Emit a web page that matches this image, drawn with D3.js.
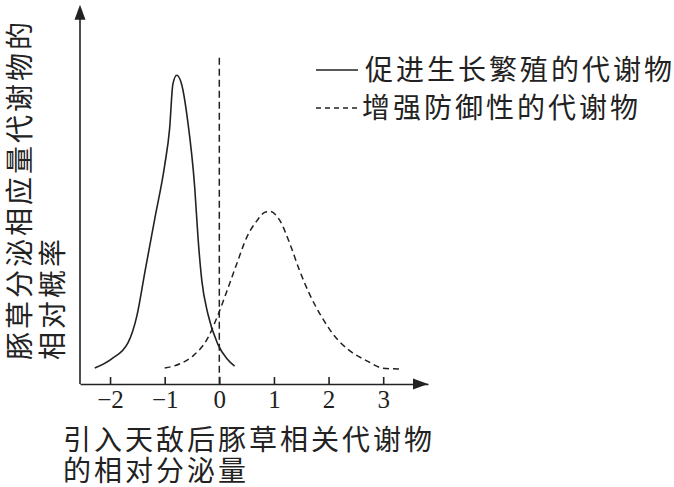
<!DOCTYPE html>
<html>
<head>
<meta charset="utf-8">
<script src="https://cdn.jsdelivr.net/npm/d3@7"></script>
<style>
  body { margin: 0; background: #fff; }
  svg { display: block; }
  .cjk { font-family: "Noto Sans CJK SC", sans-serif; font-size: 28px; fill: #222; letter-spacing: 3px; }
  .tick text { font-family: "Liberation Serif", serif; font-size: 25px; fill: #222; }
</style>
</head>
<body>
<div id="chart-area"></div>
<script>
// 数据
const xTicks = [-2, -1, 0, 1, 2, 3];

// 促进生长繁殖的代谢物 (实线)
const growthX = [-2.28, -1.97, -1.67, -1.51, -1.36, -1.18, -1.00, -0.91, -0.85, -0.78, -0.69, -0.58, -0.45, -0.39, -0.32, -0.21, -0.03, 0.14, 0.28];
const growthY = [0.48, 0.76, 1.25, 2.05, 3.4, 5.0, 6.6, 7.7, 9.05, 9.32, 9.05, 7.96, 5.93, 4.42, 3.12, 2.12, 1.21, 0.76, 0.54];

// 增强防御性的代谢物 (虚线)
const defenseX = [-1.00, -0.72, -0.48, -0.21, -0.03, 0.14, 0.32, 0.50, 0.69, 0.83, 0.92, 1.11, 1.29, 1.47, 1.65, 1.84, 2.08, 2.39, 2.70, 2.99, 3.30];
const defenseY = [0.48, 0.61, 0.85, 1.39, 2.06, 2.81, 3.63, 4.42, 4.93, 5.18, 5.21, 4.93, 4.24, 3.42, 2.72, 2.12, 1.51, 1.00, 0.70, 0.48, 0.45];

// 0 处的参考虚线
const refX = 0;
const refTop = 9.85;

const legendLabels = ["促进生长繁殖的代谢物", "增强防御性的代谢物"];
const yTitle = ["豚草分泌相应量代谢物的", "相对概率"];
const xTitle = ["引入天敌后豚草相关代谢物", "的相对分泌量"];

const width = 674;
const height = 487;
const ink = "#222";

const svg = d3.select("#chart-area")
    .append("svg")
    .attr("width", width)
    .attr("height", height);

const x = d3.scaleLinear().domain([-2.55, 3.82]).range([80, 428]);
const y = d3.scaleLinear().domain([0, 11.5]).range([384, 3]);

// x 轴
const xAxis = svg.append("g")
    .attr("transform", `translate(0,${y(0)})`)
    .call(d3.axisBottom(x)
        .tickValues(xTicks)
        .tickFormat(d3.format("d"))
        .tickSizeInner(-7)
        .tickSizeOuter(0)
        .tickPadding(6));
xAxis.selectAll("path, line").attr("stroke", ink).attr("stroke-width", 1.6);

// 箭头
svg.append("path")
    .attr("d", `M${x(3.82)},${y(0)} l-15,-5.5 l0,11 z`)
    .attr("fill", ink);

// y 轴
svg.append("line")
    .attr("x1", x(-2.55)).attr("x2", x(-2.55))
    .attr("y1", y(0)).attr("y2", y(11.2))
    .attr("stroke", ink)
    .attr("stroke-width", 1.6);
svg.append("path")
    .attr("d", `M${x(-2.55)},${y(11.45)} l-5.5,15 l11,0 z`)
    .attr("fill", ink);

// 参考虚线
svg.append("line")
    .attr("x1", x(refX)).attr("x2", x(refX))
    .attr("y1", y(refTop)).attr("y2", y(0))
    .attr("stroke", ink)
    .attr("stroke-width", 1.5)
    .attr("stroke-dasharray", "7,4");

const line = d3.line()
    .x(d => x(d[0]))
    .y(d => y(d[1]))
    .curve(d3.curveMonotoneX);

svg.append("path")
    .datum(growthX.map((v, i) => [v, growthY[i]]))
    .attr("d", line)
    .attr("fill", "none")
    .attr("stroke", ink)
    .attr("stroke-width", 1.6);

svg.append("path")
    .datum(defenseX.map((v, i) => [v, defenseY[i]]))
    .attr("d", line)
    .attr("fill", "none")
    .attr("stroke", ink)
    .attr("stroke-width", 1.5)
    .attr("stroke-dasharray", "6,4");

// 图例
const legend = svg.append("g").attr("transform", "translate(316,70)");
legendLabels.forEach((label, i) => {
    const row = legend.append("g").attr("transform", `translate(0,${i * 38})`);
    row.append("line")
        .attr("x1", 0).attr("x2", 42)
        .attr("stroke", ink)
        .attr("stroke-width", 1.4)
        .attr("stroke-dasharray", i === 0 ? null : "5,4");
    row.append("text")
        .attr("class", "cjk")
        .attr("x", i === 0 ? 49 : 46)
        .attr("dy", "0.36em")
        .text(label);
});

// 轴标题
yTitle.forEach((t, i) => {
    svg.append("text")
        .attr("class", "cjk")
        .attr("transform", `translate(${20 + i * 33},360) rotate(-90)`)
        .attr("dy", "0.36em")
        .text(t);
});

xTitle.forEach((t, i) => {
    svg.append("text")
        .attr("class", "cjk")
        .attr("x", 63)
        .attr("y", 440 + i * 31)
        .attr("dy", "0.36em")
        .text(t);
});
</script>
</body>
</html>
